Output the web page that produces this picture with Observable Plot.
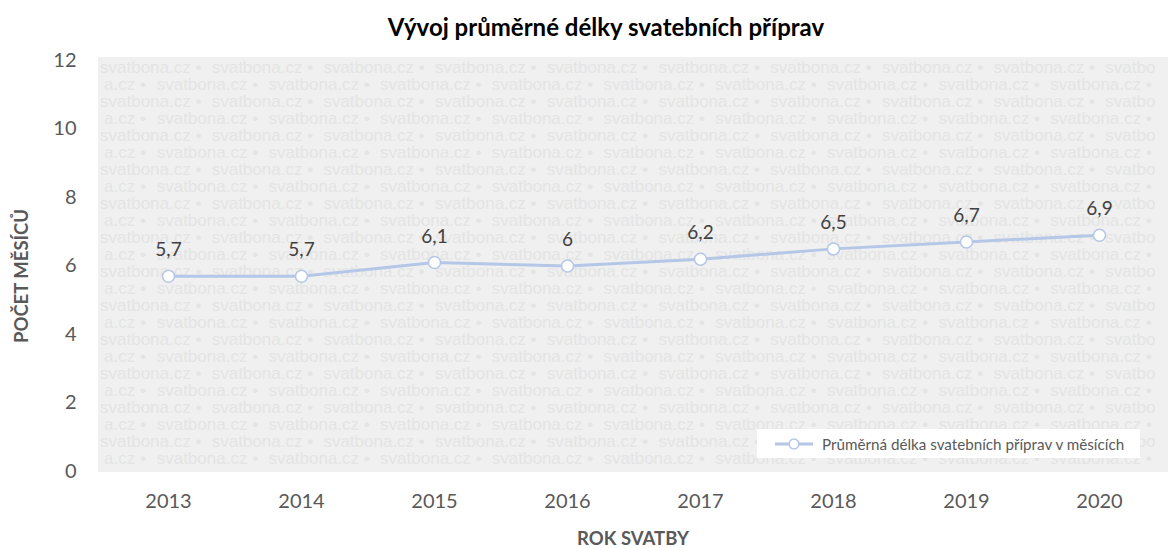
<!DOCTYPE html>
<html>
<head>
<meta charset="utf-8">
<script src="https://cdn.jsdelivr.net/npm/d3@7"></script>
<script src="https://cdn.jsdelivr.net/npm/@observablehq/plot@0.6"></script>
<style>
  html, body { margin: 0; padding: 0; background: #ffffff; }
  #wrap { position: relative; width: 1168px; height: 548px; overflow: hidden; font-family: Lato, "Open Sans", sans-serif; }
  #title { position: absolute; left: 606px; top: 12px; transform: translateX(-50%); white-space: nowrap; font-weight: 700; font-size: 24px; color: #000; }
  #wm { position: absolute; left: 98px; top: 57px; width: 1070px; height: 415px; background: #f0f0f0; overflow: hidden; }
  #wm span { position: absolute; white-space: pre; font-family: "Liberation Sans", Arial, sans-serif; font-size: 17px; color: #e4e4e4; line-height: 1; }
  #chart { position: absolute; left: 0; top: 0; }
  #chart svg { background: transparent !important; }
  #chart svg text { font-family: Lato, "Open Sans", sans-serif; font-size: 20px; }
  #chart svg g[aria-label="text"] text { font-size: 19px; }
  #xlabel { position: absolute; left: 633px; top: 527px; transform: translateX(-50%); font-weight: 700; font-size: 18.5px; color: #595959; white-space: nowrap; }
  #ylabel { position: absolute; left: 21px; top: 276px; transform: translate(-50%, -50%) rotate(-90deg); font-weight: 700; font-size: 18.5px; color: #595959; white-space: nowrap; }
  #legend { position: absolute; left: 757px; top: 429px; width: 383px; height: 29px; background: #ffffff; display: flex; align-items: center; }
  #legend svg { margin-left: 18px; margin-right: 9px; flex: none; }
  #legend span { font-size: 15.2px; color: #595959; white-space: nowrap; }
</style>
</head>
<body>
<div id="wrap">
  <div id="wm"></div>
  <div id="chart"></div>
  <div id="title"></div>
  <div id="xlabel"></div>
  <div id="ylabel"></div>
  <div id="legend"></div>
</div>
<script>
// ---- data ----
const titleText = "Vývoj průměrné délky svatebních příprav";
const xTitle = "ROK SVATBY";
const yTitle = "POČET MĚSÍCŮ";
const seriesName = "Průměrná délka svatebních příprav v měsících";
const watermarkText = "svatbona.cz •";
const watermarkHead = "a.cz •";
const watermarkTail = "svatbo";
const years = [2013, 2014, 2015, 2016, 2017, 2018, 2019, 2020];
const values = [5.7, 5.7, 6.1, 6, 6.2, 6.5, 6.7, 6.9];
const valueLabels = ["5,7", "5,7", "6,1", "6", "6,2", "6,5", "6,7", "6,9"];
const yTicks = [0, 2, 4, 6, 8, 10, 12];

const lineColor = "#b4c7e7";

document.getElementById("title").textContent = titleText;
document.getElementById("xlabel").textContent = xTitle;
document.getElementById("ylabel").textContent = yTitle;

// watermark background (decorative; pieces under the legend box are skipped)
const wm = document.getElementById("wm");
const rowStep = 17, repStep = 111.7;
// legend box in watermark-local coordinates
const lgBox = {x0: 757 - 98, x1: 1140 - 98, y0: 429 - 57, y1: 458 - 57};
function addWm(text, left, top, w) {
  if (left >= lgBox.x0 && left + w <= lgBox.x1 && top >= lgBox.y0 - 2 && top + 14 <= lgBox.y1 + 2) return;
  const s = document.createElement("span");
  s.textContent = text;
  s.style.left = left + "px";
  s.style.top = top + "px";
  wm.appendChild(s);
}
for (let r = 0; r < 24; r++) {
  const top = 2 + r * rowStep;
  if (r % 2 === 0) {
    for (let k = 0; k < 9; k++) addWm(watermarkText, 2 + k * repStep, top, 102);
    addWm(watermarkTail, 2 + 9 * repStep, top, 50);
  } else {
    addWm(watermarkHead, 6, top, 45);
    for (let k = 1; k < 10; k++) addWm(watermarkText, -53 + k * repStep, top, 102);
  }
}

const data = years.map((y, i) => ({year: y, value: values[i], label: valueLabels[i]}));

const chart = Plot.plot({
  width: 1168,
  height: 548,
  marginLeft: 98,
  marginRight: 0,
  marginTop: 60,
  marginBottom: 77,
  style: {background: "transparent", color: "#595959", fontFamily: "Lato", fontSize: "20px", overflow: "visible"},
  x: {type: "point", domain: years, padding: 0.5, label: null, tickSize: 0, tickPadding: 22, tickFormat: d => String(d)},
  y: {domain: [0, 12], ticks: yTicks, label: null, tickSize: 0, tickPadding: 22},
  marks: [
    Plot.line(data, {x: "year", y: "value", stroke: lineColor, strokeWidth: 3}),
    Plot.dot(data, {x: "year", y: "value", r: 6, fill: "white", stroke: lineColor, strokeWidth: 1.5}),
    Plot.text(data, {x: "year", y: "value", text: "label", dy: -26, fill: "#404040"})
  ]
});
document.getElementById("chart").appendChild(chart);

// legend
const lg = document.getElementById("legend");
lg.innerHTML = `<svg width="38" height="14"><line x1="0" y1="7" x2="38" y2="7" stroke="${lineColor}" stroke-width="3"/><circle cx="19" cy="7" r="5" fill="white" stroke="${lineColor}" stroke-width="1.5"/></svg>`;
const lt = document.createElement("span");
lt.textContent = seriesName;
lg.appendChild(lt);
</script>
</body>
</html>
